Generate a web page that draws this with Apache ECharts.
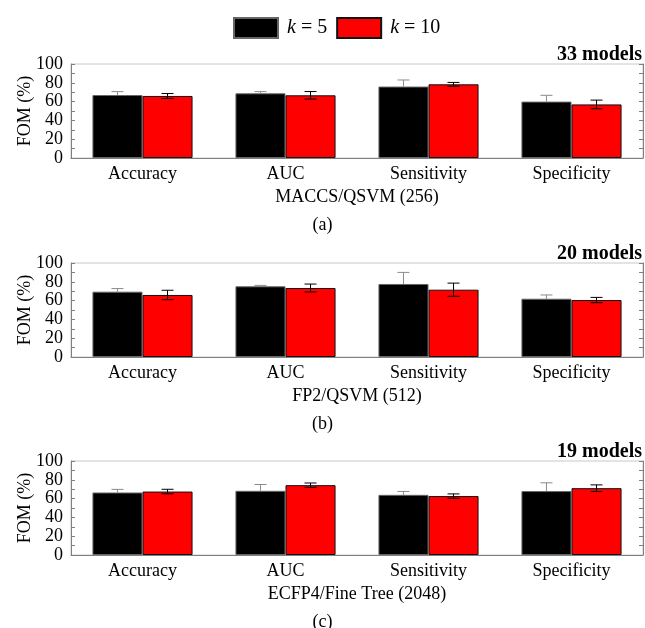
<!DOCTYPE html>
<html>
<head>
<meta charset="utf-8">
<script src="https://cdn.jsdelivr.net/npm/echarts@6/dist/echarts.min.js"></script>
<style>html,body{margin:0;padding:0;background:#fff}#c{width:645px;height:628px}</style>
</head>
<body>
<div id="c"></div>
<script>
const categories = ['Accuracy', 'AUC', 'Sensitivity', 'Specificity'];
const yTicks = [0, 20, 40, 60, 80, 100];

// Panel (a) MACCS/QSVM (256)
const aK5 = [67.0, 68.8, 76.0, 60.0];
const aK5Err = [3.6, 1.8, 7.0, 6.7];
const aK10 = [66.0, 66.7, 78.4, 57.0];
const aK10Err = [2.6, 4.0, 2.0, 4.6];

// Panel (b) FP2/QSVM (512)
const bK5 = [69.5, 75.2, 77.7, 62.0];
const bK5Err = [3.3, 1.0, 12.3, 4.0];
const bK10 = [66.0, 73.4, 71.6, 60.6];
const bK10Err = [5.0, 4.2, 7.0, 2.8];

// Panel (c) ECFP4/Fine Tree (2048)
const cK5 = [66.5, 68.3, 64.0, 68.0];
const cK5Err = [3.3, 6.7, 3.6, 8.8];
const cK10 = [67.5, 74.3, 62.7, 71.1];
const cK10Err = [2.4, 2.3, 2.3, 3.5];

const panelNames = ['MACCS/QSVM (256)', 'FP2/QSVM (512)', 'ECFP4/Fine Tree (2048)'];
const panelModels = ['33 models', '20 models', '19 models'];
const panelLetters = ['(a)', '(b)', '(c)'];

const panels = [
  {k5: aK5, k5e: aK5Err, k10: aK10, k10e: aK10Err},
  {k5: bK5, k5e: bK5Err, k10: bK10, k10e: bK10Err},
  {k5: cK5, k5e: cK5Err, k10: cK10, k10e: cK10Err}
];

const FONT = '"Liberation Serif", "Times New Roman", serif';
const gridTops = [64, 263, 461];
const gridH = 94;

function renderErr(params, api) {
  const ci = api.value(0), v = api.value(1), e = api.value(2), side = api.value(3);
  const c = api.coord([ci, v]);
  const band = api.size([1, 0])[0];
  const x = c[0] + side * band * 0.175;
  const yTop = api.coord([ci, v + e])[1];
  const yBot = side < 0 ? c[1] : api.coord([ci, v - e])[1];
  const hw = 6;
  const color = side < 0 ? '#8a8a8a' : '#000';
  const children = [
    {type: 'line', shape: {x1: x, y1: yTop, x2: x, y2: yBot}, style: {stroke: color, lineWidth: 1}},
    {type: 'line', shape: {x1: x - hw, y1: yTop, x2: x + hw, y2: yTop}, style: {stroke: color, lineWidth: 1}}
  ];
  if (side > 0) {
    children.push({type: 'line', shape: {x1: x - hw, y1: yBot, x2: x + hw, y2: yBot}, style: {stroke: color, lineWidth: 1}});
  }
  return {type: 'group', children};
}

const grid = [], xAxis = [], yAxis = [], series = [], title = [];
panels.forEach((p, i) => {
  grid.push({left: 71, right: 2, top: gridTops[i], height: gridH, show: true, borderColor: '#c8c8c8', borderWidth: 1});
  xAxis.push({
    type: 'category', gridIndex: i, data: categories,
    axisLine: {lineStyle: {color: '#808080'}}, axisTick: {show: false},
    axisLabel: {color: '#000', fontFamily: FONT, fontSize: 18, margin: 7},
    name: panelNames[i], nameLocation: 'middle', nameGap: 30,
    nameTextStyle: {color: '#000', fontFamily: FONT, fontSize: 18}
  });
  const yBase = {
    type: 'value', gridIndex: i, min: yTicks[0], max: yTicks[yTicks.length - 1], interval: 20,
    splitLine: {show: false},
    axisLine: {show: true, lineStyle: {color: '#808080'}},
    axisTick: {show: true, inside: true, length: 4, lineStyle: {color: '#808080'}},
    minorTick: {show: true, splitNumber: 2, length: 4, lineStyle: {color: '#808080'}},
    minorSplitLine: {show: false}
  };
  yAxis.push(Object.assign({}, yBase, {
    position: 'left',
    axisLabel: {color: '#000', fontFamily: FONT, fontSize: 18, margin: 8},
    name: 'FOM (%)', nameLocation: 'middle', nameGap: 37, nameRotate: 90, nameMoveOverlap: false,
    nameTextStyle: {color: '#000', fontFamily: FONT, fontSize: 18}
  }));
  yAxis.push(Object.assign({}, yBase, {position: 'right', axisLabel: {show: false}}));
  const yi = i * 2;
  series.push({
    name: 'k5', type: 'bar', xAxisIndex: i, yAxisIndex: yi, data: p.k5,
    barGap: '0%', barCategoryGap: '30%',
    itemStyle: {color: '#000', borderColor: '#666', borderWidth: 1}, z: 2
  });
  series.push({
    name: 'k10', type: 'bar', xAxisIndex: i, yAxisIndex: yi, data: p.k10,
    barGap: '0%', barCategoryGap: '30%',
    itemStyle: {color: '#ff0000', borderColor: '#111', borderWidth: 1}, z: 2
  });
  series.push({
    type: 'custom', xAxisIndex: i, yAxisIndex: yi, renderItem: renderErr, z: 3,
    data: p.k5.map((v, j) => [j, v, p.k5e[j], -1]), encode: {x: 0, y: 1}, silent: true
  });
  series.push({
    type: 'custom', xAxisIndex: i, yAxisIndex: yi, renderItem: renderErr, z: 3,
    data: p.k10.map((v, j) => [j, v, p.k10e[j], 1]), encode: {x: 0, y: 1}, silent: true
  });
  title.push({
    text: panelModels[i], right: -2, top: gridTops[i] - 24,
    textStyle: {fontFamily: FONT, fontSize: 20, fontWeight: 'bold', color: '#000'}
  });
  title.push({
    text: panelLetters[i], left: 'center', top: gridTops[i] + gridH + 53,
    textStyle: {fontFamily: FONT, fontSize: 18, fontWeight: 'normal', color: '#000'}
  });
});

const chart = echarts.init(document.getElementById('c'), null, {renderer: 'canvas'});
chart.setOption({
  backgroundColor: '#fff',
  animation: false,
  title,
  legend: {
    data: ['k5', 'k10'], left: 228, top: 12, itemWidth: 44, itemHeight: 20, itemGap: 9,
    icon: 'rect',
    formatter: n => n === 'k5' ? '{i|k} = 5' : '{i|k} = 10',
    textStyle: {
      fontFamily: FONT, fontSize: 20, color: '#000', padding: [0, 0, 0, 4],
      rich: {i: {fontFamily: FONT, fontSize: 20, fontStyle: 'italic', color: '#000'}}
    }
  },
  grid, xAxis, yAxis, series
});
</script>
</body>
</html>
